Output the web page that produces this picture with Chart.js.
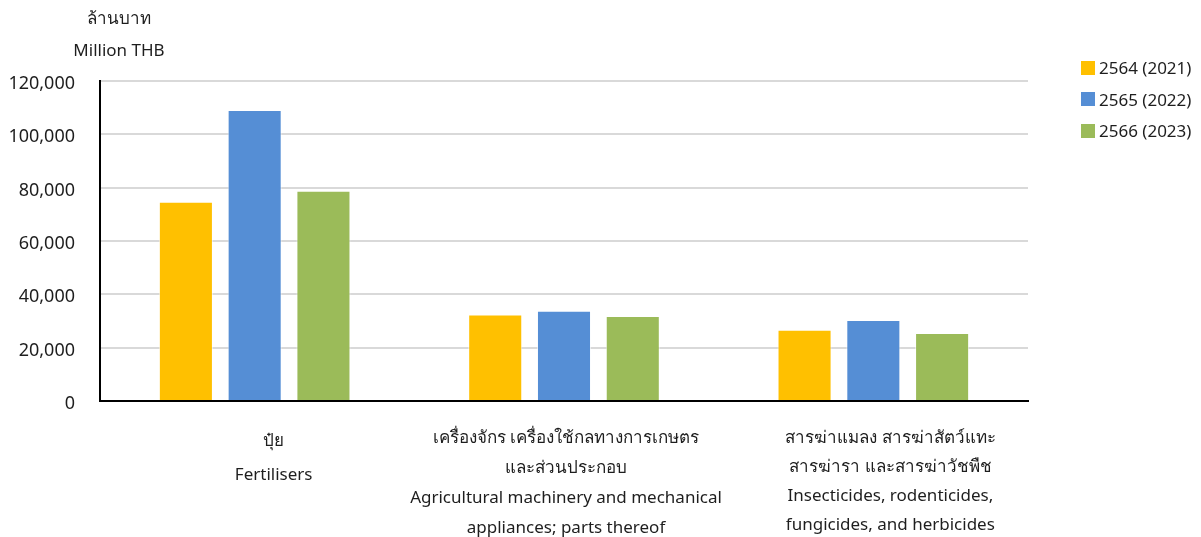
<!DOCTYPE html>
<html>
<head>
<meta charset="utf-8">
<script src="https://cdn.jsdelivr.net/npm/chart.js@4.4.1/dist/chart.umd.min.js"></script>
<style>
  html, body { margin: 0; padding: 0; background: #fff; }
  #wrap { position: relative; width: 1201px; height: 537px; font-family: "Noto Sans", "Open Sans", sans-serif; color: #1e1e1e; }
  #unit { position: absolute; left: 49px; top: 2px; width: 140px; text-align: center; font-size: 17px; line-height: 32px; }
  #legend { position: absolute; left: 1081px; top: 52px; font-size: 17px; }
  #legend div { height: 31.5px; display: flex; align-items: center; }
  #legend span.box { display: inline-block; width: 14px; height: 14px; margin-right: 4px; }
</style>
</head>
<body>
<div id="wrap">
  <canvas id="chart" width="1201" height="537"></canvas>
  <div id="unit"><div>ล้านบาท</div><div>Million THB</div></div>
  <div id="legend"></div>
</div>
<script>
const categories = [
  ['ปุ๋ย', 'Fertilisers'],
  ['เครื่องจักร เครื่องใช้กลทางการเกษตร', 'และส่วนประกอบ', 'Agricultural machinery and mechanical', 'appliances; parts thereof'],
  ['สารฆ่าแมลง สารฆ่าสัตว์แทะ', 'สารฆ่ารา และสารฆ่าวัชพืช', 'Insecticides, rodenticides,', 'fungicides, and herbicides']
];
const seriesNames = ['2564 (2021)', '2565 (2022)', '2566 (2023)'];
const values2564 = [74700, 32400, 26700];
const values2565 = [109100, 33800, 30400];
const values2566 = [78800, 31900, 25500];
const yTicks = [0, 20000, 40000, 60000, 80000, 100000, 120000];

const colors = ['#FFC000', '#558ED5', '#9BBB59'];
const seriesValues = [values2564, values2565, values2566];
// label blocks in the original sit a little right of the category centre
const labelShift = [19, 2, 17];
const labelTop = [40, 37, 37];
const labelGap = [34, 30, 29];
const font = '"Noto Sans", "Open Sans", sans-serif';

// html legend on the right
const legendBox = document.getElementById('legend');
seriesNames.forEach((name, i) => {
  const row = document.createElement('div');
  row.innerHTML = '<span class="box" style="background:' + colors[i] + '"></span>' + name;
  legendBox.appendChild(row);
});

// draws the multi-line category labels under the x axis
const categoryLabels = {
  id: 'categoryLabels',
  afterDraw: (chart) => {
    const ctx = chart.ctx;
    const xScale = chart.scales.x;
    ctx.save();
    ctx.fillStyle = '#1e1e1e';
    ctx.font = '17px ' + font;
    ctx.textAlign = 'center';
    ctx.textBaseline = 'middle';
    chart.data.labels.forEach((lines, i) => {
      const x = xScale.getPixelForValue(i) + labelShift[i];
      lines.forEach((line, j) => {
        ctx.fillText(line, x, xScale.top + labelTop[i] + j * labelGap[i]);
      });
    });
    ctx.restore();
  }
};

new Chart(document.getElementById('chart'), {
  type: 'bar',
  data: {
    labels: categories,
    datasets: seriesNames.map((name, i) => ({
      label: name,
      data: seriesValues[i],
      backgroundColor: colors[i],
      borderColor: 'rgba(255,255,255,0.6)',
      borderWidth: 1,
      categoryPercentage: 0.667,
      barPercentage: 0.786
    }))
  },
  options: {
    responsive: false,
    animation: false,
    layout: { padding: { top: 81, right: 173, left: 0, bottom: 0 } },
    plugins: {
      legend: { display: false },
      tooltip: { enabled: false }
    },
    scales: {
      x: {
        grid: { display: false, drawTicks: false },
        border: { color: '#000', width: 2 },
        ticks: { display: false },
        afterFit: (scale) => { scale.height = 136; }
      },
      y: {
        min: 0,
        max: 120000,
        afterBuildTicks: (scale) => { scale.ticks = yTicks.map(v => ({ value: v })); },
        grid: { color: '#d9d9d9', lineWidth: 2, drawTicks: false },
        border: { color: '#000', width: 2 },
        ticks: {
          color: '#1e1e1e',
          padding: 25,
          labelOffset: 3,
          font: { family: font, size: 18 },
          callback: (v) => v.toLocaleString('en-US')
        },
        afterFit: (scale) => { scale.width = 100; }
      }
    }
  },
  plugins: [categoryLabels]
});
</script>
</body>
</html>
